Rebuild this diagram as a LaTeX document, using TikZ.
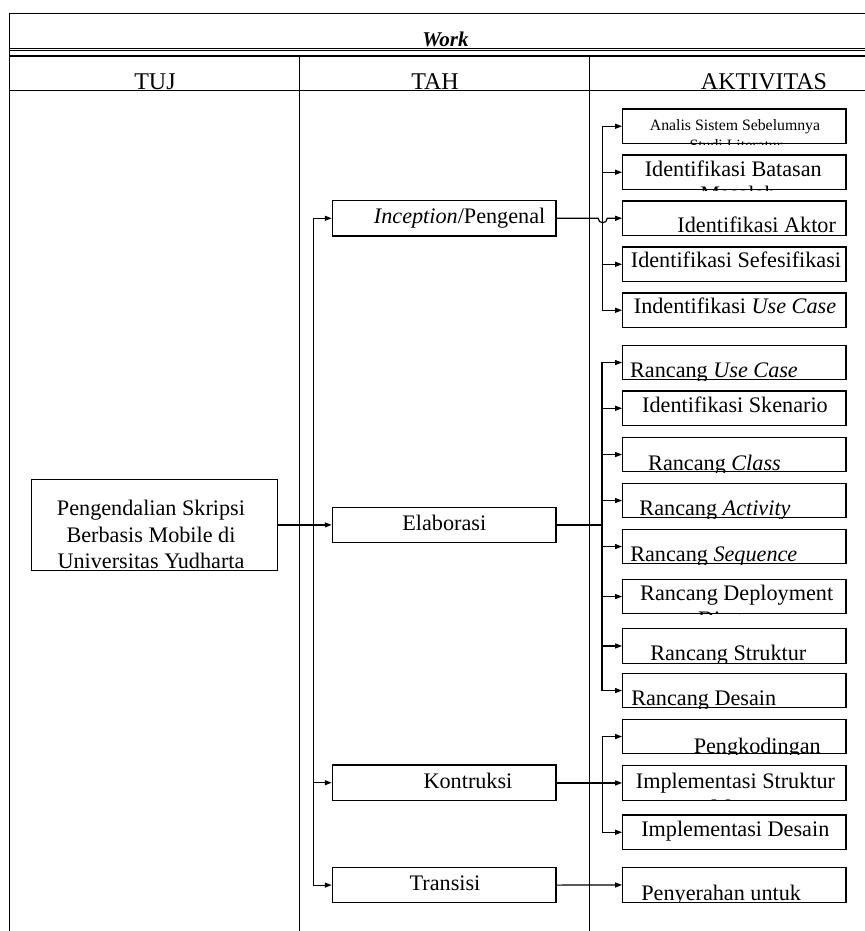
\documentclass[tikz,border=0pt]{standalone}
\usepackage{fontspec}
\setmainfont{Liberation Serif}
\usetikzlibrary{arrows.meta}
\newcommand{\actbox}[7]{%
  \node[abox] (#1) at (734.35,{#2+17.25}) {};
  \begin{scope}
    \clip (#1.south west) rectangle (#1.north east);
    \node[#6] (#1t) at (#3,#4) {#5};
    #7
  \end{scope}}
\begin{document}
\begin{tikzpicture}[x=1bp,y=-1bp,
  framel/.style={line width=1.2bp},
  boxst/.style={draw, line width=1.2bp, inner sep=0pt},
  mbox/.style={boxst, minimum width=223.7bp, minimum height=35.3bp},
  abox/.style={boxst, minimum width=223.3bp, minimum height=34.5bp},
  txt/.style={inner sep=0pt, anchor=base, font=\fontsize{22.2bp}{26.7bp}\selectfont},
  smalltxt/.style={inner sep=0pt, anchor=base, font=\fontsize{15.8bp}{18.4bp}\selectfont},
  hdr/.style={inner sep=0pt, anchor=base, font=\fontsize{24bp}{28bp}\selectfont},
  conn/.style={line width=1.2bp},
  heavy/.style={line width=2bp},
  arr/.style={conn, -{Triangle[length=7bp,width=5bp]}}
]
\clip (0,0) rectangle (865,931);
\fill[white] (0,0) rectangle (865,931);

% table frame
\draw[framel] (9.4,931) -- (9.4,13.3) -- (865,13.3);
\draw[framel] (9.4,48.3) -- (865,48.3);
\draw[line width=0.9bp] (9.4,50.3) -- (865,50.3);
\draw[line width=1.6bp] (9.4,55.7) -- (865,55.7);
\draw[framel] (9.4,90.7) -- (865,90.7);
\draw[framel] (299.4,55.7) -- (299.4,931);
\draw[framel] (589.3,55.7) -- (589.3,931);

\node[inner sep=0pt, anchor=base, font=\fontsize{21bp}{24bp}\selectfont\bfseries\itshape] (work) at (445.5,46.3) {Work};
\node[hdr] (htuj) at (155,89.8) {TUJ};
\node[hdr] (htah) at (435,89.8) {TAH};
\node[hdr] (hakt) at (764,89.8) {AKTIVITAS};

% goal box
\node[boxst, minimum width=246.1bp, minimum height=90.7bp] (goal) at (154.5,524.9) {};
\begin{scope}
  \clip (goal.south west) rectangle (goal.north east);
  \node[txt] (g1) at (151,515) {Pengendalian Skripsi};
  \node[txt] (g2) at (151,542.3) {Berbasis Mobile di};
  \node[txt] (g3) at (151,568.3) {Universitas Yudharta};
\end{scope}

% phase boxes
\node[mbox] (inc) at (444.2,218.3) {};
\node[txt] (inct) at (459.6,223.3) {\textit{Inception}/Pengenal};
\node[mbox] (ela) at (444.2,524.9) {};
\node[txt] (elat) at (444.3,530) {Elaborasi};
\node[mbox] (kon) at (444.2,782.7) {};
\node[txt] (kont) at (468,788.3) {Kontruksi};
\node[mbox] (tra) at (444.2,885.1) {};
\node[txt] (trat) at (445,890) {Transisi};

% activity boxes
\actbox{a1}{109}{735}{130}{Analis Sistem Sebelumnya}{smalltxt}{\node[smalltxt] (a1s) at (735.8,150.5) {Studi Literatur};}
\actbox{a2}{155}{733.3}{176}{Identifikasi Batasan}{txt}{\node[txt] (a2s) at (738,201.5) {Masalah};}
\actbox{a3}{201}{756.7}{232.5}{Identifikasi Aktor}{txt}{}
\actbox{a4}{247}{736}{267.7}{Identifikasi Sefesifikasi}{txt}{}
\actbox{a5}{293}{735}{313.3}{Indentifikasi \textit{Use Case}}{txt}{}
\actbox{a6}{345.3}{714}{377.5}{Rancang \textit{Use Case}}{txt}{}
\actbox{a7}{391}{735}{412.7}{Identifikasi Skenario}{txt}{}
\actbox{a8}{437.3}{714.5}{470}{Rancang \textit{Class}}{txt}{}
\actbox{a9}{483.3}{715}{515}{Rancang \textit{Activity}}{txt}{}
\actbox{a10}{529.3}{713.8}{561.7}{Rancang \textit{Sequence}}{txt}{}
\actbox{a11}{579.3}{736.7}{600.7}{Rancang Deployment}{txt}{\node[txt] (a11s) at (737,626.7) {Diagram};}
\actbox{a12}{628.7}{728.3}{660}{Rancang Struktur}{txt}{}
\actbox{a13}{673.3}{703.7}{705}{Rancang Desain}{txt}{}
\actbox{a14}{719.3}{757.3}{753.3}{Pengkodingan}{txt}{}
\actbox{a15}{765.7}{735.5}{788.3}{Implementasi Struktur}{txt}{\node[txt] (a15s) at (737,814) {Menu};}
\actbox{a16}{815}{735.3}{836.7}{Implementasi Desain}{txt}{}
\actbox{a17}{867.7}{721.2}{900}{Penyerahan untuk}{txt}{}

% left connectors
\coordinate (gbus) at (313.8,524.9);
\draw[conn] (goal.east) -- (gbus);
\draw[arr] (gbus) -- (ela.west);
\draw[arr] (gbus) |- (inc.west);
\draw[arr] (gbus) |- (kon.west);
\draw[arr] (gbus) |- (tra.west);

% inception connectors
\coordinate (ibus) at (602.7,218.3);
\draw[arr] (inc.east) -- ([xshift=-4.5bp]ibus) arc[start angle=180,end angle=360,radius=4.5bp] -- (a3.west);
\foreach \b in {a1,a2,a4,a5} \draw[arr] (ibus) |- (\b.west);

% elaboration connectors
\coordinate (ebus) at (602,524.9);
\draw[heavy] (ela.east) -- (ebus);
\foreach \b in {a6,a7,a8,a9,a10,a11,a12,a13} \draw[arr] (ebus) |- (\b.west);

% construction connectors
\coordinate (kbus) at (602.7,782.7);
\draw[heavy] (kon.east) -- (kbus);
\foreach \b in {a14,a15,a16} \draw[arr] (kbus) |- (\b.west);

% transition connector
\draw[arr] (tra.east) -- (a17.west);
\end{tikzpicture}
\end{document}
